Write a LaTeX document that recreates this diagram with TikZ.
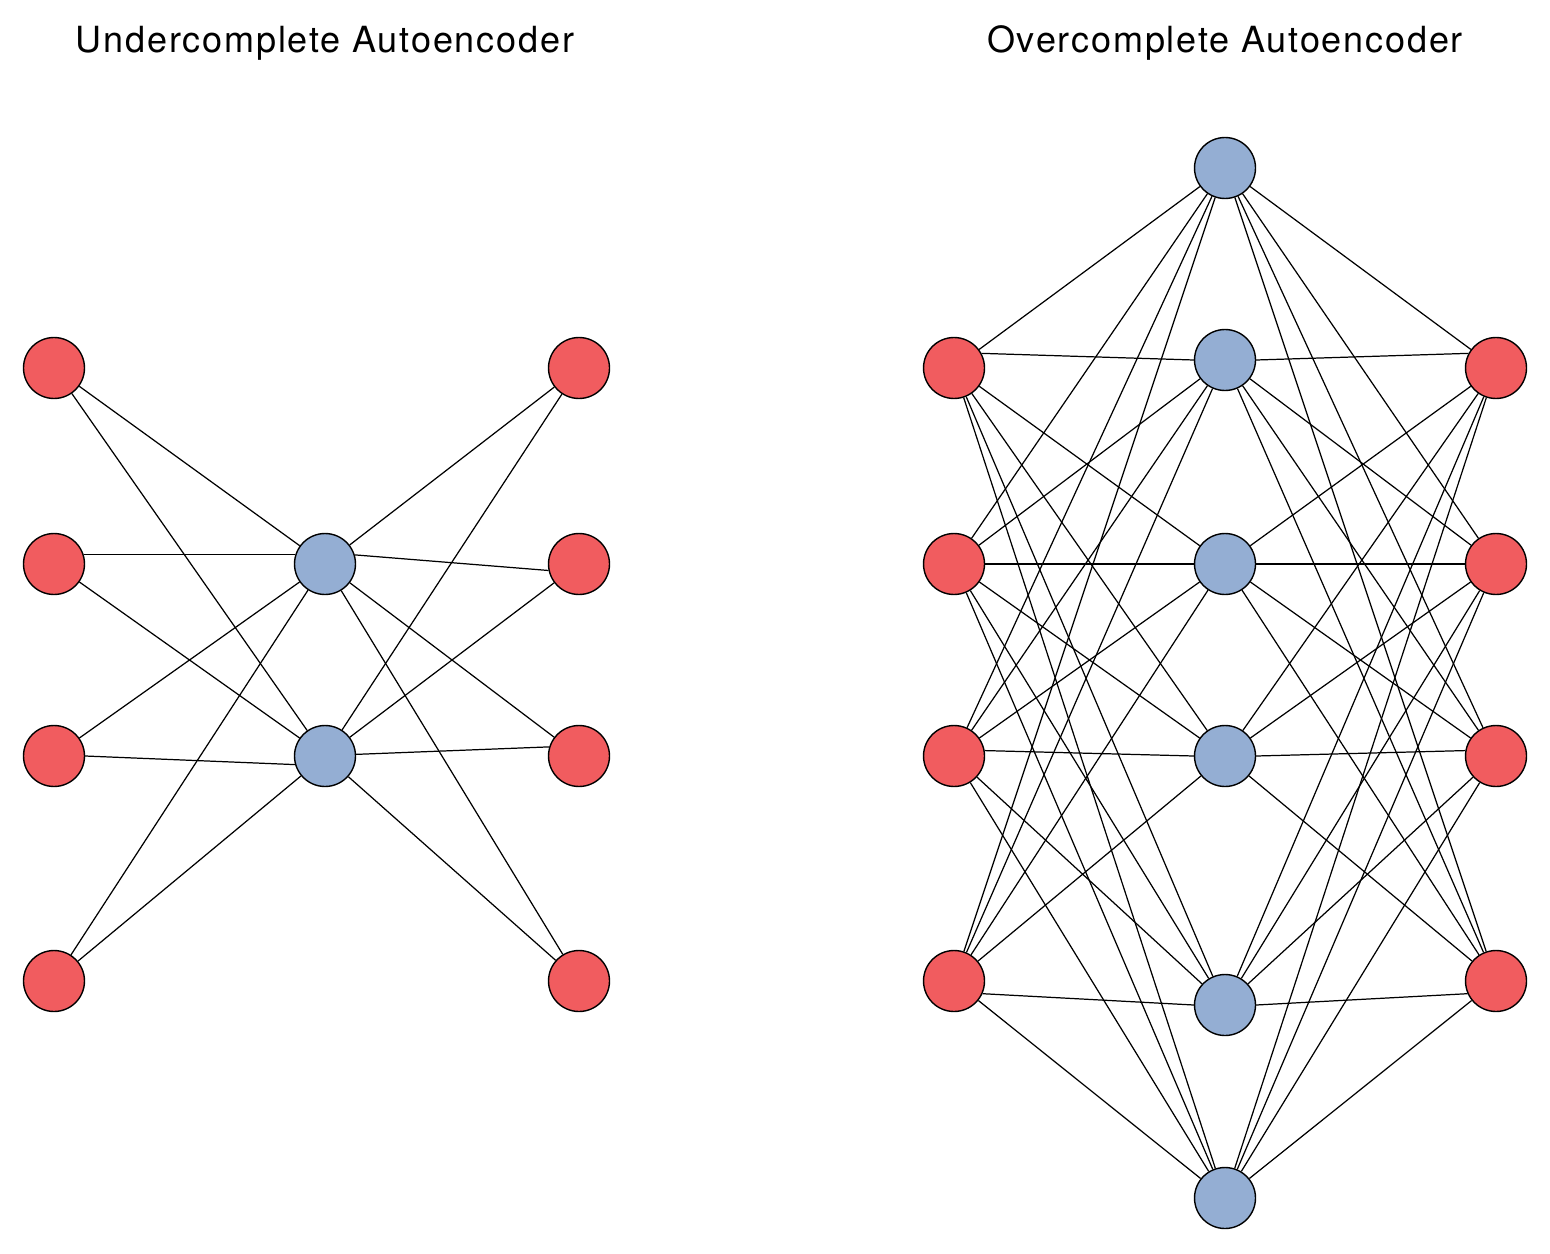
\documentclass[tikz,border=0pt]{standalone}
\usepackage{fontspec}
\setmainfont{TeX Gyre Heros}
\newfontfamily\headfont[LetterSpace=5]{TeX Gyre Heros}
\definecolor{unitred}{HTML}{F15C5F}
\definecolor{unitblue}{HTML}{94AED3}
\begin{document}
\begin{tikzpicture}[x=0.02cm, y=-0.02cm,
	unit/.style = { draw, circle, minimum size=1.22cm, inner sep=0pt, line width=0.8pt },
	visible/.style = { unit, fill=unitred },
	code/.style = { unit, fill=unitblue },
	link/.style = { line width=0.7pt },
	heading/.style = { font=\headfont\fontsize{20.5}{24}\selectfont }]
	\useasboundingbox (0,0) rectangle (1550,1253);

	% titles
	\node [heading] (undertitle) at (325,43) { Undercomplete Autoencoder };
	\node [heading] (overtitle) at (1225,43) { Overcomplete Autoencoder };

	% undercomplete: 4 - 2 - 4
	\foreach \y [count=\i] in {368,564,756,981} {
		\node [visible] (uin\i) at (54,\y) {};
		\node [visible] (uout\i) at (579,\y) {};
	}
	\foreach \y [count=\j] in {564,756}
		\node [code] (uhid\j) at (325,\y) {};
	\foreach \i in {1,...,4}
		\foreach \j in {1,2} {
			\ifnum\numexpr\j+1\relax=\i \else
				\draw [link] (uin\i) -- (uhid\j);
				\draw [link] (uhid\j) -- (uout\i);
			\fi
		}
	% near-horizontal links meet the circles off centre
	\foreach \a/\b in {uin2.17/uhid1.163, uhid1.17/uout2.192,
		uin3.0/uhid2.196, uhid2.3/uout3.163}
		\draw [link] (\a) -- (\b);

	% overcomplete: 4 - 6 - 4
	\foreach \y [count=\i] in {368,564,756,981} {
		\node [visible] (oin\i) at (954,\y) {};
		\node [visible] (oout\i) at (1496,\y) {};
	}
	\foreach \y [count=\j] in {168,360,564,756,1005,1198}
		\node [code] (ohid\j) at (1225,\y) {};
	\foreach \i in {1,...,4}
		\foreach \j in {1,...,6} {
			\ifnum\numexpr\j-1\relax=\i \else
				\draw [link] (oin\i) -- (ohid\j);
				\draw [link] (ohid\j) -- (oout\i);
			\fi
		}
	\foreach \a/\b in {oin1.28/ohid2.180, ohid2.0/oout1.152,
		oin2/ohid3, ohid3/oout2,
		oin3.10/ohid4.180, ohid4.0/oout3.170,
		oin4.-24/ohid5.180, ohid5.0/oout4.204}
		\draw [link] (\a) -- (\b);
\end{tikzpicture}
\end{document}
